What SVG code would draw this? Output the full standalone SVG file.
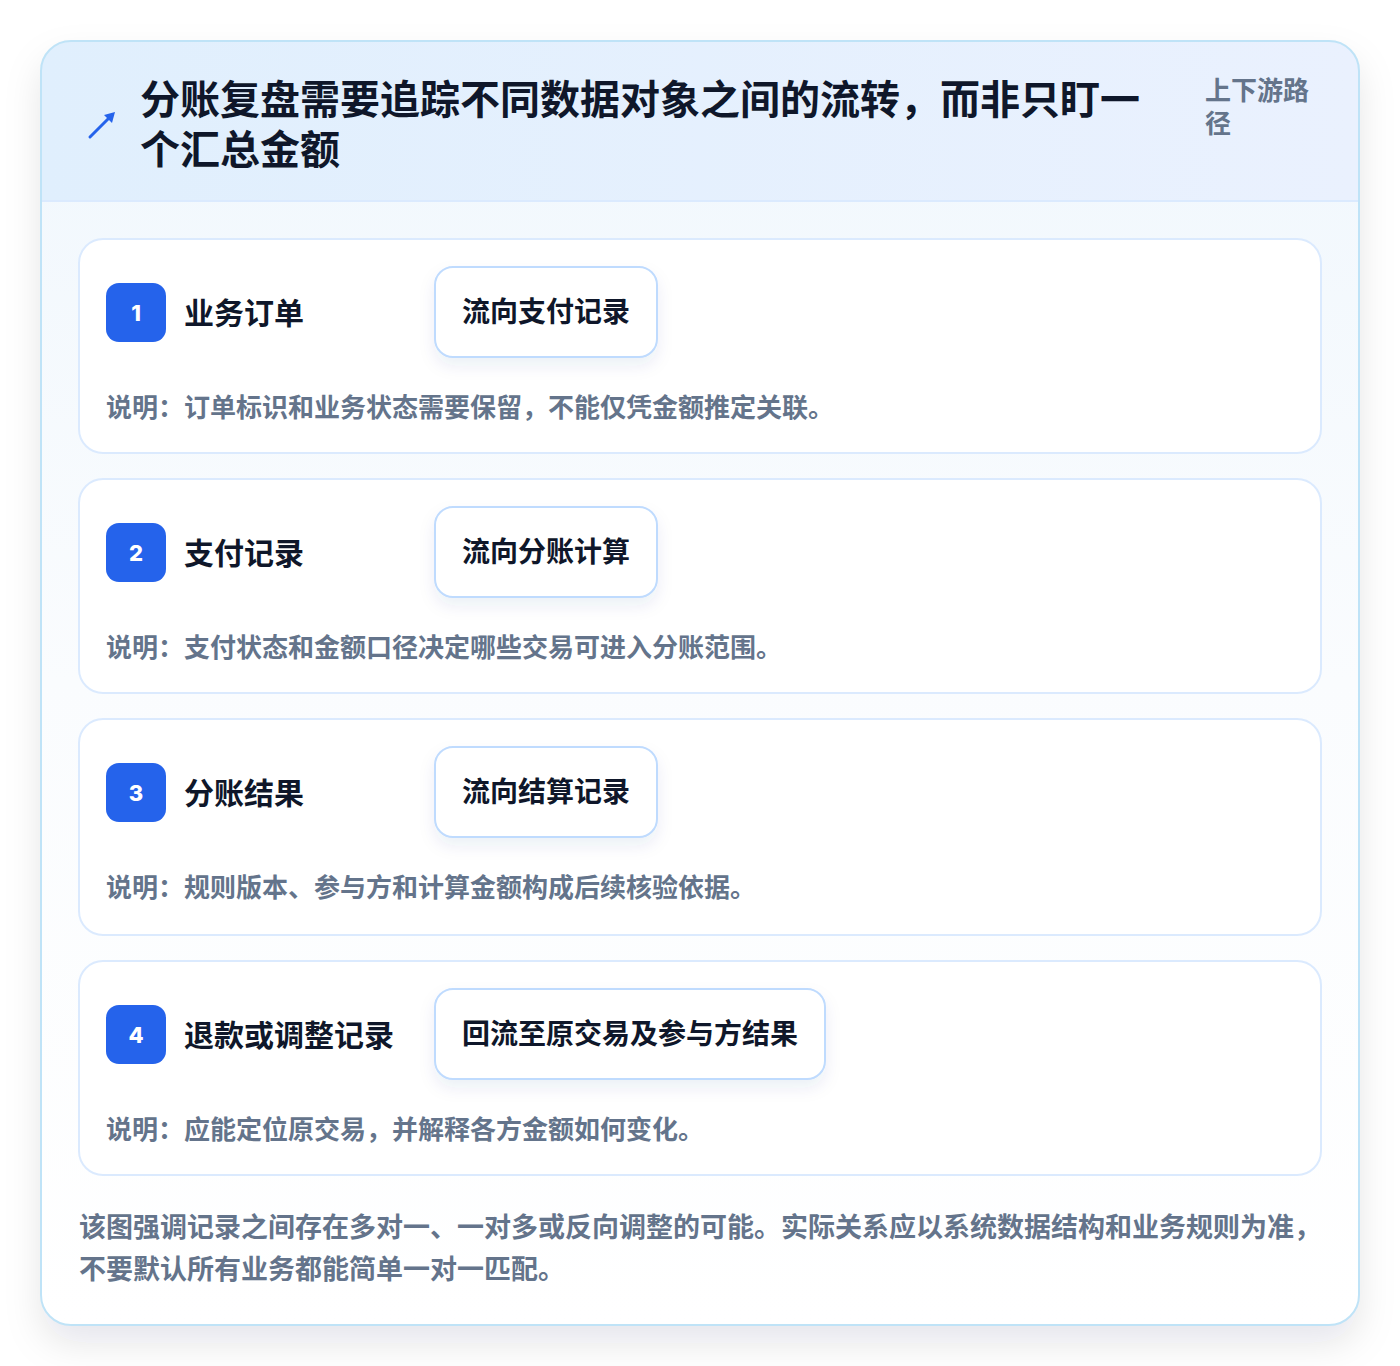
<svg xmlns="http://www.w3.org/2000/svg" width="1400" height="1366" viewBox="0 0 1400 1366">
<defs>
<linearGradient id="hdr" x1="0" y1="0" x2="1" y2="0"><stop offset="0" stop-color="#e0effd"/><stop offset="1" stop-color="#eaf1fe"/></linearGradient>
<linearGradient id="body" x1="0" y1="0" x2="0" y2="1"><stop offset="0" stop-color="#f0f7fd"/><stop offset="0.5" stop-color="#fafcfe"/><stop offset="1" stop-color="#ffffff"/></linearGradient>
<filter id="sh" x="-10%" y="-10%" width="120%" height="125%"><feDropShadow dx="0" dy="18" stdDeviation="18" flood-color="#0f172a" flood-opacity="0.10"/></filter>
<filter id="psh" x="-20%" y="-30%" width="140%" height="180%"><feDropShadow dx="0" dy="8" stdDeviation="8" flood-color="#1e3a8a" flood-opacity="0.08"/></filter>
<clipPath id="cc"><rect x="41" y="41" width="1318" height="1284" rx="30"/></clipPath>
</defs>
<style>
text{font-family:"Noto Sans CJK SC","Noto Sans",sans-serif;font-weight:700}
.title{font-size:40px;fill:#0f172a}
.tag{font-size:26px;fill:#64748b}
.item{fill:#ffffff;stroke:#dbeafe;stroke-width:2}
.badge{fill:#2563eb}
.num{font-size:22px;fill:#ffffff;text-anchor:middle;font-family:Inter,"Noto Sans",sans-serif;font-weight:800}
.name{font-size:30px;fill:#0f172a}
.pill{fill:#ffffff;stroke:#bfdbfe;stroke-width:2}
.ptxt{font-size:28px;fill:#0f172a;text-anchor:middle}
.desc{font-size:26px;fill:#64748b}
.foot{font-size:27px;fill:#64748b}
</style>
<rect width="1400" height="1366" fill="#ffffff"/>
<g id="card">
<rect x="41" y="41" width="1318" height="1284" rx="30" fill="#ffffff" filter="url(#sh)"/>
<g clip-path="url(#cc)">
<rect x="41" y="41" width="1318" height="1284" fill="url(#body)"/>
<rect x="41" y="41" width="1318" height="160" fill="url(#hdr)"/>
<line x1="41" y1="201" x2="1359" y2="201" stroke="#dbeafe" stroke-width="2"/>
</g>
<rect x="41" y="41" width="1318" height="1284" rx="30" fill="none" stroke="#bfe3f7" stroke-width="2"/>
</g>
<g id="header">
<g stroke="#2563eb" stroke-width="3" stroke-linecap="round" fill="none"><line x1="90" y1="137" x2="112" y2="115"/></g>
<polygon points="115,112 104,115 112,123" fill="#2563eb"/>
<text class="title" x="140" y="114">分账复盘需要追踪不同数据对象之间的流转，而非只盯一</text>
<text class="title" x="140" y="164">个汇总金额</text>
<text class="tag" x="1205" y="100">上下游路</text>
<text class="tag" x="1205" y="133">径</text>
</g>
<g id="node1">
<rect class="item" x="79" y="239" width="1242" height="214" rx="24"/>
<rect class="badge" x="106" y="283" width="60" height="59" rx="13"/>
<text class="num" x="136" y="321">1</text>
<text class="name" x="184" y="324">业务订单</text>
<rect class="pill" x="435" y="267" width="222" height="90" rx="18" filter="url(#psh)"/>
<text class="ptxt" x="546" y="322">流向支付记录</text>
<text class="desc" x="106" y="417">说明：订单标识和业务状态需要保留，不能仅凭金额推定关联。</text>
</g>
<g id="node2">
<rect class="item" x="79" y="479" width="1242" height="214" rx="24"/>
<rect class="badge" x="106" y="523" width="60" height="59" rx="13"/>
<text class="num" x="136" y="561">2</text>
<text class="name" x="184" y="564">支付记录</text>
<rect class="pill" x="435" y="507" width="222" height="90" rx="18" filter="url(#psh)"/>
<text class="ptxt" x="546" y="562">流向分账计算</text>
<text class="desc" x="106" y="657">说明：支付状态和金额口径决定哪些交易可进入分账范围。</text>
</g>
<g id="node3">
<rect class="item" x="79" y="719" width="1242" height="216" rx="24"/>
<rect class="badge" x="106" y="763" width="60" height="59" rx="13"/>
<text class="num" x="136" y="801">3</text>
<text class="name" x="184" y="804">分账结果</text>
<rect class="pill" x="435" y="747" width="222" height="90" rx="18" filter="url(#psh)"/>
<text class="ptxt" x="546" y="802">流向结算记录</text>
<text class="desc" x="106" y="897">说明：规则版本、参与方和计算金额构成后续核验依据。</text>
</g>
<g id="node4">
<rect class="item" x="79" y="961" width="1242" height="214" rx="24"/>
<rect class="badge" x="106" y="1005" width="60" height="59" rx="13"/>
<text class="num" x="136" y="1043">4</text>
<text class="name" x="184" y="1046">退款或调整记录</text>
<rect class="pill" x="435" y="989" width="390" height="90" rx="18" filter="url(#psh)"/>
<text class="ptxt" x="630" y="1044">回流至原交易及参与方结果</text>
<text class="desc" x="106" y="1139">说明：应能定位原交易，并解释各方金额如何变化。</text>
</g>
<g id="connectors"></g>
<g id="footer">
<text class="foot" x="79" y="1237">该图强调记录之间存在多对一、一对多或反向调整的可能。实际关系应以系统数据结构和业务规则为准，</text>
<text class="foot" x="79" y="1279">不要默认所有业务都能简单一对一匹配。</text>
</g>
</svg>
